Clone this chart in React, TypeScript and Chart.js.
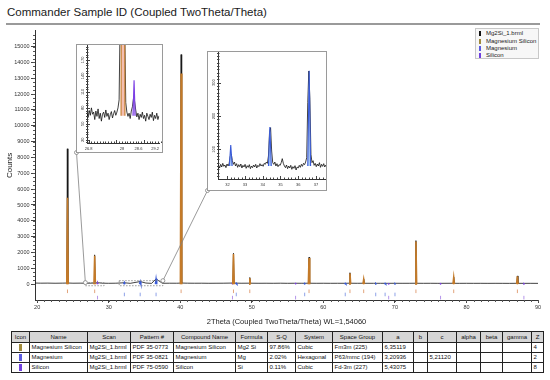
import React, { useEffect, useRef } from "react";
import { Chart, registerables } from "chart.js";
Chart.register(...registerables);

const FONT = "'Liberation Sans', Arial, Helvetica, sans-serif";
Chart.defaults.font.family = FONT;

// ---------------- main scan (2theta, counts) ----------------
const scanAngles = [
  19.7, 20.5, 21.5, 22.5, 23.5, 24.14, 24.22, 24.3, 25.0, 26.0, 27.0,
  27.95, 28.03, 28.11, 28.44, 29.0, 30.0, 31.0, 32.19, 33.0, 34.4, 35.2,
  36.0, 36.62, 37.5, 38.5, 39.5, 40.04, 40.12, 40.2, 41.0, 42.0, 43.0,
  44.0, 45.0, 46.0, 47.36, 47.44, 47.52, 48.5, 49.64, 49.72, 49.8, 51.0,
  52.0, 53.0, 54.0, 55.0, 56.0, 57.0, 57.92, 58.0, 58.08, 59.0, 60.0,
  61.0, 62.0, 63.0, 63.64, 63.72, 63.8, 64.8, 65.56, 65.64, 65.72, 67.0,
  68.0, 69.0, 70.0, 71.0, 72.0, 72.86, 72.94, 73.02, 74.0, 75.0, 76.0,
  77.0, 78.14, 78.22, 78.3, 79.0, 80.0, 81.0, 82.0, 83.0, 84.0, 85.0,
  86.0, 87.04, 87.12, 87.2, 88.0, 89.0, 90.0,
];
const scanCounts = [
  70, 62, 66, 58, 64, 70, 8550, 72, 60, 64, 58,
  68, 1850, 70, 98, 62, 55, 60, 88, 52, 165, 70,
  50, 335, 56, 60, 58, 66, 14500, 70, 62, 58, 60,
  55, 58, 60, 70, 1950, 70, 58, 62, 420, 60, 56,
  58, 55, 60, 54, 58, 56, 60, 1700, 58, 55, 57,
  54, 56, 55, 60, 720, 58, 55, 58, 330, 56, 54,
  55, 53, 56, 54, 55, 58, 2750, 56, 53, 55, 52,
  54, 56, 450, 54, 52, 54, 52, 53, 51, 53, 52,
  50, 54, 520, 52, 51, 52, 50,
];

// ---------------- reference patterns ----------------
const mg2siAngles = [24.24, 28.04, 40.12, 47.44, 49.72, 58.0, 63.72, 65.64, 72.94, 78.22, 87.12];
const mg2siHeights = [5450, 1800, 13300, 1900, 380, 1650, 680, 300, 2700, 420, 500];
const mgAngles = [32.19, 34.4, 36.62, 47.83, 57.39, 63.06, 67.32, 68.63, 70.01];
const mgHeights = [113, 167, 336, 60, 50, 55, 45, 55, 35];
const siAngles = [28.44, 47.3, 56.12, 69.13, 76.38, 88.03];
const siHeights = [132, 80, 50, 30, 35, 40];
// rows of reference stick markers drawn under the zero line
const mg2siMarkRow = -450;
const mgMarkRow = -650;
const siMarkRow = -850;

const mainXTicks = [20, 30, 40, 50, 60, 70, 80, 90];
const mainYTicks = [0, 1000, 2000, 3000, 4000, 5000, 6000, 7000, 8000, 9000, 10000, 11000, 12000, 13000, 14000, 15000];

// ---------------- inset 1 (26.74 - 29.35) ----------------
const inset1Start = 26.74;
const inset1Step = 0.04;
const inset1Counts = [
  70, 62, 75, 66, 80, 68, 72, 58, 74, 64,
  78, 60, 70, 55, 68, 72, 62, 76, 64, 70,
  58, 67, 73, 61, 69, 75, 66, 72, 80, 95,
  260, 1400, 1850, 1200, 240, 90, 72, 64, 70, 60,
  74, 82, 98, 92, 76, 63, 70, 58, 68, 62,
  72, 60, 66, 55, 70, 64, 58, 68, 62, 72,
  56, 66, 60, 70, 58, 65,
];
const inset1XTicks = [26.8, 28, 28.6, 29.2];
const inset1YTicks = [20, 50, 80, 110, 140, 170];

// ---------------- inset 2 (31.47 - 37.57) ----------------
const inset2Start = 31.5;
const inset2Step = 0.06;
const inset2Counts = [
  52, 44, 55, 47, 58, 49, 53, 45, 56, 50,
  58, 78, 86, 66, 55, 62, 50, 57, 46, 54,
  48, 56, 44, 52, 47, 55, 43, 51, 46, 54,
  42, 50, 45, 53, 47, 55, 44, 52, 48, 57,
  50, 54, 49, 58, 55, 62, 58, 80, 150, 165,
  95, 60, 55, 62, 50, 57, 48, 54, 52, 60,
  72, 58, 50, 45, 53, 42, 50, 44, 52, 40,
  48, 43, 51, 38, 47, 44, 52, 46, 55, 49,
  58, 54, 62, 75, 240, 335, 250, 85, 60, 66,
  52, 58, 48, 56, 50, 60, 46, 55, 49, 57,
  47, 53,
];
const inset2XTicks = [32, 33, 34, 35, 36, 37];
const inset2YTicks = [100, 200, 300];

// ---------------- legend & table ----------------
const legendLabels = ["Mg2Si_1.brml", "Magnesium Silicon", "Magnesium", "Silicon"];
const legendColors = ["#111111", "#a08a3a", "#5a5ae0", "#7040e0"];

const tableHeaders = ["Icon", "Name", "Scan", "Pattern #", "Compound Name", "Formula", "S-Q", "System", "Space Group", "a", "b", "c", "alpha", "beta", "gamma", "Z"];
const tableRows = [
  ["", "Magnesium Silicon", "Mg2Si_1.brml", "PDF 35-0773", "Magnesium Silicon", "Mg2 Si", "97.86%", "Cubic", "Fm3m (225)", "6,35119", "", "", "", "", "", "4"],
  ["", "Magnesium", "Mg2Si_1.brml", "PDF 35-0821", "Magnesium", "Mg", "2.02%", "Hexagonal", "P63/mmc (194)", "3,20936", "", "5,21120", "", "", "", "2"],
  ["", "Silicon", "Mg2Si_1.brml", "PDF 75-0590", "Silicon", "Si", "0.11%", "Cubic", "Fd-3m (227)", "5,43075", "", "", "", "", "", "8"],
];
const tableIconColors = ["#a08a3a", "#5a5ae0", "#7040e0"];
const tableColWidths = [18, 58, 43, 43, 62, 32, 28, 37, 50, 31, 14, 29, 24, 22, 29, 12];

// ---------------- colours ----------------
const C_SCAN = "#111111";
const C_MG2SI = "#c47a28";
const F_MG2SI = "rgba(240,170,150,0.75)";
const C_MG = "#3a5bd8";
const F_MG = "rgba(150,190,240,0.8)";
const C_SI = "#7b3fe4";
const F_SI = "rgba(190,160,240,0.8)";

// ---------------- layout ----------------
const MAIN = { top: 26, width: 550, height: 304 };
const INSET1 = { left: 76, top: 44, width: 87, height: 109 };
const INSET2 = { left: 207, top: 51, width: 120, height: 140 };

function peakTriangles(angles: number[], heights: number[], base: number, half: number) {
  const pts: { x: number; y: number | null }[] = [];
  angles.forEach((a, i) => {
    pts.push({ x: a - half, y: base }, { x: a, y: heights[i] }, { x: a + half, y: base }, { x: a + half, y: null });
  });
  return pts;
}

const decorPlugin = {
  id: "decor",
  afterDraw(chart: any, _args: any, opts: any) {
    const ctx = chart.ctx;
    ctx.save();
    ctx.strokeStyle = opts.color || "#444";
    ctx.lineWidth = 1;
    for (const m of opts.minor || []) {
      const s = chart.scales[m.axis];
      const n = Math.round((m.to - m.from) / m.step);
      ctx.beginPath();
      for (let i = 0; i <= n; i++) {
        const v = m.from + i * m.step;
        const p = Math.round(s.getPixelForValue(v)) + 0.5;
        if (s.isHorizontal()) {
          const y0 = chart.chartArea.bottom;
          ctx.moveTo(p, y0 - (m.inn || 0));
          ctx.lineTo(p, y0 + (m.out || 0));
        } else {
          const x0 = chart.chartArea.left;
          ctx.moveTo(x0 - (m.out || 0), p);
          ctx.lineTo(x0 + (m.inn || 0), p);
        }
      }
      ctx.stroke();
    }
    for (const r of opts.rotLabels || []) {
      const s = chart.scales[r.axis];
      ctx.fillStyle = r.color;
      ctx.font = `${r.size}px ${FONT}`;
      ctx.textAlign = "center";
      ctx.textBaseline = "middle";
      for (const v of r.values) {
        const y = s.getPixelForValue(v);
        ctx.save();
        ctx.translate(chart.chartArea.left - r.offset, y);
        ctx.rotate(-Math.PI / 2);
        ctx.fillText(String(v), 0, 0);
        ctx.restore();
      }
    }
    ctx.restore();
  },
};

const zoomMarkPlugin = {
  id: "zoomMarks",
  afterDatasetsDraw(chart: any, _a: any, opts: any) {
    const ctx = chart.ctx;
    const xs = chart.scales.x;
    const ys = chart.scales.y;
    for (const m of opts.marks || []) {
      const l = xs.getPixelForValue(m.xMin);
      const r = xs.getPixelForValue(m.xMax);
      const t = ys.getPixelForValue(m.yMax);
      const b = ys.getPixelForValue(m.yMin);
      ctx.save();
      ctx.strokeStyle = "#808080";
      ctx.lineWidth = 0.8;
      ctx.setLineDash([1.5, 1.5]);
      ctx.strokeRect(l, t, r - l, b - t);
      ctx.setLineDash([]);
      const ax = m.anchor === "right" ? r : l;
      ctx.beginPath();
      ctx.moveTo(ax, t);
      ctx.lineTo(m.tx, m.ty);
      ctx.stroke();
      for (const [cx, cy] of [[ax, t], [m.tx, m.ty]]) {
        ctx.beginPath();
        ctx.arc(cx, cy, 2, 0, Math.PI * 2);
        ctx.fillStyle = "#fff";
        ctx.fill();
        ctx.stroke();
      }
      ctx.restore();
    }
  },
};

function fixedTicks(values: number[]) {
  return (s: any) => {
    s.ticks = values.map((v) => ({ value: v }));
  };
}

function mainConfig(): any {
  const markStyle = (angles: number[], row: number, color: string) => ({
    data: angles.map((a) => ({ x: a, y: row })),
    showLine: false,
    pointStyle: "line",
    pointRotation: 90,
    pointRadius: 1.8,
    pointBorderColor: color,
    pointBorderWidth: 1,
    order: 5,
  });
  return {
    type: "line",
    data: {
      datasets: [
        { label: "Magnesium Silicon", data: peakTriangles(mg2siAngles, mg2siHeights, 0, 0.1), borderColor: C_MG2SI, backgroundColor: "#e6a468", borderWidth: 1.6, fill: "origin", pointRadius: 0, spanGaps: false, order: 1 },
        { label: "Magnesium", data: peakTriangles(mgAngles, mgHeights, 0, 0.1), borderColor: C_MG, backgroundColor: F_MG, borderWidth: 1.4, fill: "origin", pointRadius: 0, spanGaps: false, order: 2 },
        { label: "Silicon", data: peakTriangles(siAngles, siHeights, 0, 0.1), borderColor: C_SI, backgroundColor: F_SI, borderWidth: 1.2, fill: "origin", pointRadius: 0, spanGaps: false, order: 3 },
        { label: "Mg2Si_1.brml", data: scanAngles.map((a, i) => ({ x: a, y: scanCounts[i] })), borderColor: C_SCAN, borderWidth: 0.8, pointRadius: 0, fill: false, order: 4 },
        { label: "mg2si marks", ...markStyle(mg2siAngles, mg2siMarkRow, "#e2a47c") },
        { label: "mg marks", ...markStyle(mgAngles, mgMarkRow, "#8ea2e8") },
        { label: "si marks", ...markStyle(siAngles, siMarkRow, "#b596ea") },
      ],
    },
    options: {
      responsive: false,
      animation: false,
      events: [],
      layout: { padding: { left: 0, right: 12, top: 2, bottom: 0 }, autoPadding: false },
      plugins: {
        legend: { display: false },
        tooltip: { enabled: false },
        decor: {
          color: "#555",
          minor: [
            { axis: "y", from: 0, to: 15750, step: 250, out: 2 },
            { axis: "x", from: 20, to: 90, step: 1, out: 2 },
          ],
        },
        zoomMarks: {
          marks: [
            { xMin: 26.74, xMax: 29.35, yMin: -100, yMax: 100, anchor: "left", tx: INSET1.left + 0.5, ty: INSET1.top + INSET1.height - 0.5 - MAIN.top },
            { xMin: 31.47, xMax: 37.57, yMin: -100, yMax: 220, anchor: "right", tx: INSET2.left + 0.5, ty: INSET2.top + INSET2.height - 0.5 - MAIN.top },
          ],
        },
      },
      scales: {
        x: {
          type: "linear",
          min: 19.7,
          max: 90,
          afterBuildTicks: fixedTicks(mainXTicks),
          afterFit: (s: any) => { s.height = 30; },
          grid: { display: true, drawOnChartArea: false, drawTicks: true, tickLength: 3, tickColor: "#444" },
          border: { display: true, color: "#333", width: 1 },
          ticks: { padding: 1, font: { size: 5.5 }, color: "#333", maxRotation: 0, autoSkip: false, callback: (v: any) => String(v) },
          title: { display: true, text: "2Theta (Coupled TwoTheta/Theta) WL=1,54060", font: { size: 7.5 }, color: "#222", padding: { top: 0, bottom: 4 } },
        },
        y: {
          type: "linear",
          min: -1000,
          max: 16000,
          afterBuildTicks: fixedTicks(mainYTicks),
          afterFit: (s: any) => { s.width = 35; },
          grid: { display: true, drawOnChartArea: false, drawTicks: true, tickLength: 4, tickColor: "#444" },
          border: { display: true, color: "#333", width: 1 },
          ticks: { padding: 1.5, font: { size: 5.5 }, color: "#333", autoSkip: false, callback: (v: any) => String(v) },
          title: { display: true, text: "Counts", font: { size: 8 }, color: "#222", padding: { top: 5, bottom: 0 } },
        },
      },
    },
    plugins: [decorPlugin, zoomMarkPlugin],
  };
}

function insetConfig(p: {
  start: number; step: number; counts: number[];
  xMin: number; xMax: number; yMin: number; yMax: number;
  xTicks: number[]; yTicks: number[];
  xMinorStep: number; yMinorFrom: number; yMinorTo: number; yMinorStep: number;
  xAxisHeight: number;
  refs: { angles: number[]; heights: number[]; base: number; half: number; color: string; fill: string }[];
}): any {
  return {
    type: "line",
    data: {
      datasets: [
        ...p.refs.map((r, i) => ({
          data: peakTriangles(r.angles, r.heights, r.base, r.half),
          borderColor: r.color,
          backgroundColor: r.fill,
          borderWidth: 1.1,
          fill: { value: r.base },
          pointRadius: 0,
          spanGaps: false,
          order: 1 + i,
        })),
        {
          data: p.counts.map((c, i) => ({ x: p.start + i * p.step, y: c })),
          borderColor: C_SCAN,
          borderWidth: 0.8,
          pointRadius: 0,
          fill: false,
          order: 10,
        },
      ],
    },
    options: {
      responsive: false,
      animation: false,
      events: [],
      layout: { padding: 0, autoPadding: false },
      plugins: {
        legend: { display: false },
        tooltip: { enabled: false },
        decor: {
          color: "#444",
          minor: [
            { axis: "x", from: p.xTicks[0], to: p.xMax, step: p.xMinorStep, inn: 1.5, out: 0 },
            { axis: "x", from: p.xTicks[0], to: p.xTicks[p.xTicks.length - 1], step: p.xTicks[1] - p.xTicks[0] > 0.9 ? 1 : 0.6, inn: 3, out: 0 },
            { axis: "y", from: p.yMinorFrom, to: p.yMinorTo, step: p.yMinorStep, inn: 1.5, out: 1 },
            { axis: "y", from: p.yTicks[0], to: p.yTicks[p.yTicks.length - 1], step: p.yTicks[1] - p.yTicks[0], inn: 3, out: 1 },
          ],
          rotLabels: [{ axis: "y", values: p.yTicks, color: "#333", size: 4, offset: 4 }],
        },
      },
      scales: {
        x: {
          type: "linear",
          min: p.xMin,
          max: p.xMax,
          afterBuildTicks: fixedTicks(p.xTicks),
          afterFit: (s: any) => { s.height = p.xAxisHeight; },
          grid: { display: false, drawTicks: false },
          border: { display: true, color: "#333", width: 1 },
          ticks: { padding: 3, font: { size: 4 }, color: "#333", maxRotation: 0, autoSkip: false, callback: (v: any) => String(v) },
        },
        y: {
          type: "linear",
          min: p.yMin,
          max: p.yMax,
          afterBuildTicks: fixedTicks(p.yTicks),
          afterFit: (s: any) => { s.width = 10; },
          grid: { display: false, drawTicks: false },
          border: { display: true, color: "#333", width: 1 },
          ticks: { display: false },
        },
      },
    },
    plugins: [decorPlugin],
  };
}

export default function App() {
  const mainRef = useRef<HTMLCanvasElement>(null);
  const in1Ref = useRef<HTMLCanvasElement>(null);
  const in2Ref = useRef<HTMLCanvasElement>(null);

  useEffect(() => {
    const charts: Chart[] = [];
    if (mainRef.current) charts.push(new Chart(mainRef.current, mainConfig()));
    if (in1Ref.current)
      charts.push(
        new Chart(
          in1Ref.current,
          insetConfig({
            start: inset1Start, step: inset1Step, counts: inset1Counts,
            xMin: 26.74, xMax: 29.35, yMin: 14, yMax: 198,
            xTicks: inset1XTicks, yTicks: inset1YTicks,
            xMinorStep: 0.1, yMinorFrom: 15, yMinorTo: 195, yMinorStep: 5,
            xAxisHeight: INSET1.height - 2 - 98,
            refs: [
              { angles: mg2siAngles, heights: mg2siHeights, base: 65, half: 0.07, color: C_MG2SI, fill: F_MG2SI },
              { angles: siAngles, heights: siHeights, base: 65, half: 0.04, color: C_SI, fill: F_SI },
            ],
          })
        )
      );
    if (in2Ref.current)
      charts.push(
        new Chart(
          in2Ref.current,
          insetConfig({
            start: inset2Start, step: inset2Step, counts: inset2Counts,
            xMin: 31.47, xMax: 37.57, yMin: 11, yMax: 392,
            xTicks: inset2XTicks, yTicks: inset2YTicks,
            xMinorStep: 0.2, yMinorFrom: 20, yMinorTo: 390, yMinorStep: 10,
            xAxisHeight: INSET2.height - 2 - 127,
            refs: [
              { angles: mgAngles, heights: mgHeights, base: 50, half: 0.08, color: C_MG, fill: F_MG },
            ],
          })
        )
      );
    return () => charts.forEach((c) => c.destroy());
  }, []);

  const box = (b: { left: number; top: number; width: number; height: number }): React.CSSProperties => ({
    position: "absolute",
    left: b.left,
    top: b.top,
    width: b.width,
    height: b.height,
    boxSizing: "border-box",
    border: "1px solid #9a9a9a",
    background: "#fff",
  });

  const cell: React.CSSProperties = {
    border: "1px solid #222",
    padding: "0 1.5px",
    height: 9,
    lineHeight: "9px",
    whiteSpace: "nowrap",
    overflow: "hidden",
    color: "#111",
  };

  return (
    <div style={{ position: "absolute", left: 0, top: 0, width: 550, height: 380, background: "#fff", fontFamily: FONT, overflow: "hidden" }}>
      <div style={{ position: "absolute", left: 7, top: 6, fontSize: 11.5, lineHeight: "12px", color: "#1a1a1a", whiteSpace: "nowrap" }}>
        Commander Sample ID (Coupled TwoTheta/Theta)
      </div>
      <div style={{ position: "absolute", left: 6, top: 23, width: 534, height: 2, background: "#9a9a9a" }} />
      <canvas ref={mainRef} width={MAIN.width} height={MAIN.height} style={{ position: "absolute", left: 0, top: MAIN.top, width: MAIN.width, height: MAIN.height }} />

      <div style={box(INSET1)}>
        <canvas ref={in1Ref} width={INSET1.width - 2} height={INSET1.height - 2} style={{ display: "block", width: INSET1.width - 2, height: INSET1.height - 2 }} />
      </div>
      <div style={box(INSET2)}>
        <canvas ref={in2Ref} width={INSET2.width - 2} height={INSET2.height - 2} style={{ display: "block", width: INSET2.width - 2, height: INSET2.height - 2 }} />
      </div>

      <div style={{ position: "absolute", left: 475, top: 28, width: 64, height: 31, boxSizing: "border-box", border: "1px solid #c8c8c8", background: "#f7f7f7", padding: "1px 0 0 3px" }}>
        {legendLabels.map((l, i) => (
          <div key={l} style={{ display: "flex", alignItems: "center", height: 7.4, fontSize: 6, lineHeight: "7px", color: "#222", whiteSpace: "nowrap" }}>
            <span style={{ display: "inline-block", width: 2, height: 5, background: legendColors[i], marginRight: 5 }} />
            {l}
          </div>
        ))}
      </div>

      <table style={{ position: "absolute", left: 11, top: 331, width: 532, borderCollapse: "collapse", tableLayout: "fixed", fontSize: 6, fontFamily: FONT, border: "1.5px solid #000" }}>
        <colgroup>
          {tableColWidths.map((w, i) => (
            <col key={i} style={{ width: w }} />
          ))}
        </colgroup>
        <thead>
          <tr>
            {tableHeaders.map((h) => (
              <th key={h} style={{ ...cell, background: "#d6d6d6", fontWeight: "normal", textAlign: "center", height: 10, lineHeight: "10px" }}>{h}</th>
            ))}
          </tr>
        </thead>
        <tbody>
          {tableRows.map((row, r) => (
            <tr key={r}>
              {row.map((v, c) => (
                <td key={c} style={{ ...cell, textAlign: c === 0 ? "center" : "left" }}>
                  {c === 0 ? (
                    <span style={{ display: "inline-block", width: 3, height: 7, background: tableIconColors[r], verticalAlign: "middle" }} />
                  ) : (
                    v
                  )}
                </td>
              ))}
            </tr>
          ))}
        </tbody>
      </table>
    </div>
  );
}
